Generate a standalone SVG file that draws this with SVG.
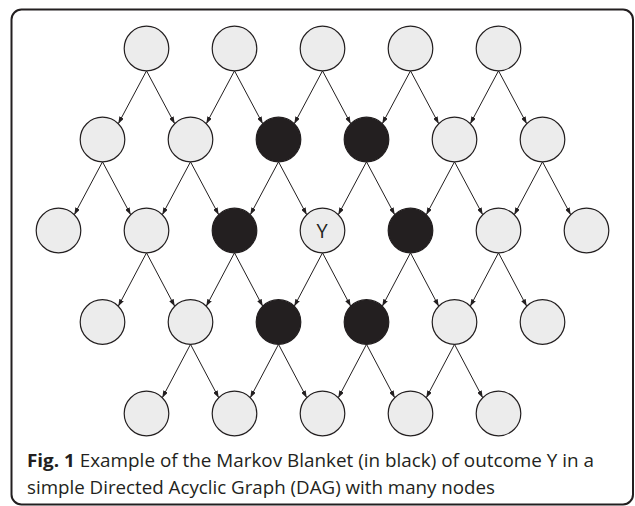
<svg xmlns="http://www.w3.org/2000/svg" width="635" height="506" viewBox="0 0 635 506">
  <style>
    .n { fill: #ececec; stroke: #231f20; stroke-width: 1.2; }
    .b { fill: #231f20; stroke: #231f20; stroke-width: 1.2; }
    .e { fill: none; stroke: #231f20; stroke-width: 1; marker-end: url(#arr); }
    .lbl { font-family: "Open Sans", "Liberation Sans", sans-serif; fill: #231f20; }
  </style>
  <defs>
    <marker id="arr" markerUnits="userSpaceOnUse" markerWidth="7" markerHeight="5" refX="7" refY="2.5" orient="auto">
      <path d="M0,0 L7,2.5 L0,5 z" fill="#231f20"/>
    </marker>
  </defs>

  <!-- frame -->
  <rect x="11.5" y="9.5" width="621.5" height="495" rx="10" fill="#fff" stroke="#231f20" stroke-width="2"/>

  <!-- connectors -->
  <g id="edges">
    <!-- row 1 to row 2 -->
    <path class="e" d="M146.5 70.8 L118.3 123.7"/>
    <path class="e" d="M146.5 70.8 L174.7 123.7"/>
    <path class="e" d="M234.5 70.8 L206.3 123.7"/>
    <path class="e" d="M234.5 70.8 L262.7 123.7"/>
    <path class="e" d="M322.5 70.8 L294.3 123.7"/>
    <path class="e" d="M322.5 70.8 L350.7 123.7"/>
    <path class="e" d="M410.5 70.8 L382.3 123.7"/>
    <path class="e" d="M410.5 70.8 L438.7 123.7"/>
    <path class="e" d="M498.5 70.8 L470.3 123.7"/>
    <path class="e" d="M498.5 70.8 L526.7 123.7"/>
    <!-- row 2 to row 3 -->
    <path class="e" d="M102.5 161.8 L74.3 214.7"/>
    <path class="e" d="M102.5 161.8 L130.7 214.7"/>
    <path class="e" d="M190.5 161.8 L162.3 214.7"/>
    <path class="e" d="M190.5 161.8 L218.7 214.7"/>
    <path class="e" d="M278.5 161.8 L250.3 214.7"/>
    <path class="e" d="M278.5 161.8 L306.7 214.7"/>
    <path class="e" d="M366.5 161.8 L338.3 214.7"/>
    <path class="e" d="M366.5 161.8 L394.7 214.7"/>
    <path class="e" d="M454.5 161.8 L426.3 214.7"/>
    <path class="e" d="M454.5 161.8 L482.7 214.7"/>
    <path class="e" d="M542.5 161.8 L514.3 214.7"/>
    <path class="e" d="M542.5 161.8 L570.7 214.7"/>
    <!-- row 3 to row 4 -->
    <path class="e" d="M146.5 252.8 L118.3 306.2"/>
    <path class="e" d="M146.5 252.8 L174.7 306.2"/>
    <path class="e" d="M234.5 252.8 L206.3 306.2"/>
    <path class="e" d="M234.5 252.8 L262.7 306.2"/>
    <path class="e" d="M322.5 252.8 L294.3 306.2"/>
    <path class="e" d="M322.5 252.8 L350.7 306.2"/>
    <path class="e" d="M410.5 252.8 L382.3 306.2"/>
    <path class="e" d="M410.5 252.8 L438.7 306.2"/>
    <path class="e" d="M498.5 252.8 L470.3 306.2"/>
    <path class="e" d="M498.5 252.8 L526.7 306.2"/>
    <!-- row 4 to row 5 -->
    <path class="e" d="M190.5 344.3 L162.3 397.7"/>
    <path class="e" d="M190.5 344.3 L218.7 397.7"/>
    <path class="e" d="M278.5 344.3 L250.3 397.7"/>
    <path class="e" d="M278.5 344.3 L306.7 397.7"/>
    <path class="e" d="M366.5 344.3 L338.3 397.7"/>
    <path class="e" d="M366.5 344.3 L394.7 397.7"/>
    <path class="e" d="M454.5 344.3 L426.3 397.7"/>
    <path class="e" d="M454.5 344.3 L482.7 397.7"/>
  </g>

  <!-- row 1 -->
  <g id="n1a"><circle class="n" cx="146.5" cy="48.5" r="22.3"/></g>
  <g id="n1b"><circle class="n" cx="234.5" cy="48.5" r="22.3"/></g>
  <g id="n1c"><circle class="n" cx="322.5" cy="48.5" r="22.3"/></g>
  <g id="n1d"><circle class="n" cx="410.5" cy="48.5" r="22.3"/></g>
  <g id="n1e"><circle class="n" cx="498.5" cy="48.5" r="22.3"/></g>
  <!-- row 2 -->
  <g id="n2a"><circle class="n" cx="102.5" cy="139.5" r="22.3"/></g>
  <g id="n2b"><circle class="n" cx="190.5" cy="139.5" r="22.3"/></g>
  <g id="n2c"><circle class="b" cx="278.5" cy="139.5" r="22.3"/></g>
  <g id="n2d"><circle class="b" cx="366.5" cy="139.5" r="22.3"/></g>
  <g id="n2e"><circle class="n" cx="454.5" cy="139.5" r="22.3"/></g>
  <g id="n2f"><circle class="n" cx="542.5" cy="139.5" r="22.3"/></g>
  <!-- row 3 -->
  <g id="n3a"><circle class="n" cx="58.5" cy="230.5" r="22.3"/></g>
  <g id="n3b"><circle class="n" cx="146.5" cy="230.5" r="22.3"/></g>
  <g id="n3c"><circle class="b" cx="234.5" cy="230.5" r="22.3"/></g>
  <g id="nY"><circle class="n" cx="322.5" cy="230.5" r="22.3"/>
    <text class="lbl" x="322" y="238.3" font-size="20" text-anchor="middle">Y</text></g>
  <g id="n3e"><circle class="b" cx="410.5" cy="230.5" r="22.3"/></g>
  <g id="n3f"><circle class="n" cx="498.5" cy="230.5" r="22.3"/></g>
  <g id="n3g"><circle class="n" cx="586.5" cy="230.5" r="22.3"/></g>
  <!-- row 4 -->
  <g id="n4a"><circle class="n" cx="102.5" cy="322" r="22.3"/></g>
  <g id="n4b"><circle class="n" cx="190.5" cy="322" r="22.3"/></g>
  <g id="n4c"><circle class="b" cx="278.5" cy="322" r="22.3"/></g>
  <g id="n4d"><circle class="b" cx="366.5" cy="322" r="22.3"/></g>
  <g id="n4e"><circle class="n" cx="454.5" cy="322" r="22.3"/></g>
  <g id="n4f"><circle class="n" cx="542.5" cy="322" r="22.3"/></g>
  <!-- row 5 -->
  <g id="n5a"><circle class="n" cx="146.5" cy="413.5" r="22.3"/></g>
  <g id="n5b"><circle class="n" cx="234.5" cy="413.5" r="22.3"/></g>
  <g id="n5c"><circle class="n" cx="322.5" cy="413.5" r="22.3"/></g>
  <g id="n5d"><circle class="n" cx="410.5" cy="413.5" r="22.3"/></g>
  <g id="n5e"><circle class="n" cx="498.5" cy="413.5" r="22.3"/></g>

  <!-- caption -->
  <g id="caption">
    <text class="lbl" x="27" y="467.3" font-size="18.5" textLength="567" lengthAdjust="spacingAndGlyphs"><tspan font-weight="bold">Fig. 1</tspan> Example of the Markov Blanket (in black) of outcome Y in a</text>
    <text class="lbl" x="27" y="494.3" font-size="18.5" textLength="468" lengthAdjust="spacingAndGlyphs">simple Directed Acyclic Graph (DAG) with many nodes</text>
  </g>
</svg>
